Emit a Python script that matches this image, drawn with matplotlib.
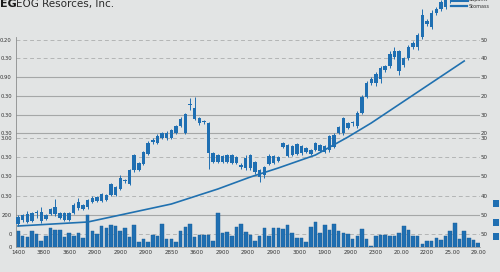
import matplotlib.pyplot as plt
from matplotlib.lines import Line2D
from matplotlib.patches import Rectangle
import numpy as np

# candle values (arbitrary price units)
opens = [23, 27, 25, 26, 34, 26, 28, 33, 33,
         34, 27, 27,
         34, 39, 42, 40, 45, 46, 46, 52, 52, 60, 58, 66, 63, 77, 84, 83, 93, 105, 104,
         109, 114, 109, 114, 121, 133, 142, 139, 129, 125, 124, 94, 85, 91, 85, 92, 84, 82, 89, 79, 85, 77,
         72, 83, 84, 86, 100, 102, 92, 103, 94, 99, 93, 97, 102, 95, 97, 100, 114, 114, 119, 124, 121,
         134, 150, 164, 164, 168, 177, 181, 190, 196, 182, 189, 200, 200, 210, 223, 220, 234, 238, 240, 247]
closes = [30, 32, 33, 34, 34, 35, 32, 38, 40,
          29, 34, 34,
          42, 45, 38, 47, 49, 50, 53, 47, 63, 52, 69, 66, 77, 92, 77, 95, 104, 107, 111,
          114, 109, 117, 121, 128, 114, 142, 128, 124, 125, 94, 85, 92, 85, 92, 84, 90, 80, 79, 92, 75, 70,
          80, 91, 91, 90, 104, 91, 101, 93, 101, 95, 97, 104, 96, 101, 111, 112, 120, 129, 124, 124, 134,
          150, 164, 168, 173, 179, 181, 193, 196, 176, 189, 200, 204, 212, 232, 226, 234, 238, 245, 247, 256]
highs = [32, 33, 36, 35, 37, 40, 33, 39, 48,
         35, 35, 35,
         44, 49, 43, 48, 51, 51, 54, 53, 64, 61, 72, 68, 78, 93, 85, 96, 106, 109, 113,
         115, 116, 118, 122, 130, 134, 149, 150, 130, 127, 125, 95, 93, 92, 93, 93, 91, 84, 92, 93, 86, 78,
         81, 93, 92, 91, 105, 103, 102, 104, 102, 100, 98, 105, 103, 102, 112, 114, 121, 130, 125, 126, 136,
         152, 166, 170, 175, 181, 182, 196, 200, 197, 190, 202, 206, 214, 238, 228, 237, 240, 247, 250, 260]
lows = [21, 25, 24, 25, 29, 24, 27, 32, 31,
        28, 26, 26,
        33, 37, 37, 38, 44, 45, 45, 46, 51, 51, 57, 64, 62, 75, 76, 82, 92, 103, 103,
        108, 107, 108, 113, 120, 113, 137, 127, 122, 123, 78, 84, 84, 84, 84, 83, 83, 78, 77, 77, 73, 65,
        69, 82, 83, 85, 99, 90, 91, 92, 92, 94, 92, 96, 95, 94, 95, 99, 113, 112, 118, 121, 119,
        133, 149, 162, 161, 164, 175, 179, 188, 172, 180, 187, 198, 197, 208, 221, 218, 232, 236, 238, 244]

volume = [16, 11, 10, 16, 13, 6, 11, 19, 17, 17, 10, 14, 11, 14, 9, 32, 16, 13, 21, 19,
          22, 21, 16, 19, 10, 22, 5, 8, 5, 12, 11, 23, 8, 8, 5, 16, 20, 23, 10, 12,
          12, 12, 6, 34, 14, 15, 11, 20, 23, 15,
          12, 6, 11, 19, 11, 19, 19, 18, 22, 14, 9, 9, 5, 20, 25, 14, 22, 17, 23, 16,
          14, 13, 8, 11, 18, 8, 1, 11, 12, 12, 11, 11, 14, 21, 17, 11, 11, 3, 6, 6,
          9, 7, 11, 16, 24, 8, 16, 9, 7, 4]

# trend line vertices (bar index, value)
trend_x = [0, 15, 33, 43, 50, 56, 64, 71, 76, 96]
trend_y = [21, 25, 43, 58, 70, 79, 92, 110, 124, 186]

x_labels = ["1400", "3800", "3600", "2900", "2900", "2900", "2850", "3600", "2900", "2900",
            "2900", "3000", "1900", "2900", "2300", "20.00", "2200", "25.00", "29.00"]
left_labels = ["0.20", "0.30", "0.90", "0.30", "0.30", "0.30", "3.00",
               "0.30", "0.30", "0.30", "200", "0", "0"]
right_labels = ["50", "40", "30", "20", "30", "20", "30", "50", "50", "40", "50", "50", ""]

# layout: gridline levels and their styles
levels = [207, 189, 170, 151, 132, 114, 109, 90, 71, 51, 32, 13, 0]
dashed = [True, True, False, False, False, False, True, True, False, True, False, True, False]

bg = '#e2e4e4'
blue = '#1f6fb2'

fig = plt.figure(figsize=(5, 2.72), dpi=100, facecolor=bg)
ax = fig.add_axes([16 / 500, 1 - 247 / 272, 464 / 500, 247 / 272])
ax.set_facecolor(bg)
ax.set_xlim(-0.43, 99.4)
ax.set_ylim(0, 247)

for lv, d in zip(levels[:-1], dashed[:-1]):
    if d:
        ax.axhline(lv, color='#b3b5b5', lw=0.7, ls=(0, (4, 3)), zorder=0)
    else:
        ax.axhline(lv, color='#a5a7a7', lw=0.8, zorder=0)

# volume bars
vx = np.arange(len(volume))
ax.bar(vx, volume, width=0.76, color=blue, edgecolor='#175d99', linewidth=0.3, zorder=2)

# trend line
ax.plot(trend_x, trend_y, color='#2071b0', lw=1.2, zorder=3)

# candlesticks
o = np.array(opens)
c = np.array(closes)
cx = np.arange(len(opens))
ax.vlines(cx, lows, highs, color=blue, lw=0.7, zorder=4)
body_h = np.maximum(np.abs(c - o), 1.2)
ax.bar(cx, body_h, bottom=np.minimum(o, c), width=0.74, color=blue, zorder=5)

for s in ['top', 'right']:
    ax.spines[s].set_visible(False)
ax.spines['left'].set_color('#8a8c8c')
ax.spines['left'].set_linewidth(0.6)
ax.spines['left'].set_bounds(0, 210)
ax.spines['bottom'].set_color('#9a9c9c')
ax.spines['bottom'].set_linewidth(0.6)

ax.set_xticks(np.linspace(0, 99, len(x_labels)))
ax.set_xticklabels(x_labels)
ax.set_yticks(levels)
ax.set_yticklabels(left_labels)
ax.tick_params(axis='both', length=0, labelsize=3.8, colors='#333333')
ax.tick_params(axis='y', pad=3)
ax.tick_params(axis='x', pad=2.5, labelsize=4)

ax2 = ax.twinx()
ax2.set_ylim(ax.get_ylim())
ax2.set_yticks(levels)
ax2.set_yticklabels(right_labels)
ax2.tick_params(axis='y', length=0, labelsize=4, colors='#333333', pad=0.5)
for s in ax2.spines.values():
    s.set_visible(False)

# title
fig.text(0.0, 1 - 7 / 272, 'EG', fontsize=8, fontweight='bold', color='#1a1a1a', va='baseline')
fig.text(16 / 500, 1 - 7 / 272, 'EOG Resorces, Inc.', fontsize=7.5, color='#2a2a2a', va='baseline')

# legend
handles = [Line2D([0], [0], color=blue, lw=2.2), Line2D([0], [0], color=blue, lw=1.6)]
leg = ax.legend(handles, ['Supamt', 'Stomass'], loc='upper right', bbox_to_anchor=(0.985, 1.02),
                bbox_transform=fig.transFigure, frameon=False, fontsize=3.5, handlelength=3.2,
                handletextpad=0.4, labelspacing=0.25, borderpad=0.1)
for t in leg.get_texts():
    t.set_color('#333333')

# small markers at the right edge
for py in [200, 219, 233]:
    fig.add_artist(Rectangle((493 / 500, 1 - (py + 7) / 272), 6 / 500, 7 / 272,
                             facecolor=blue, edgecolor='none'))

fig.savefig('out.png', dpi=100, facecolor=bg)
